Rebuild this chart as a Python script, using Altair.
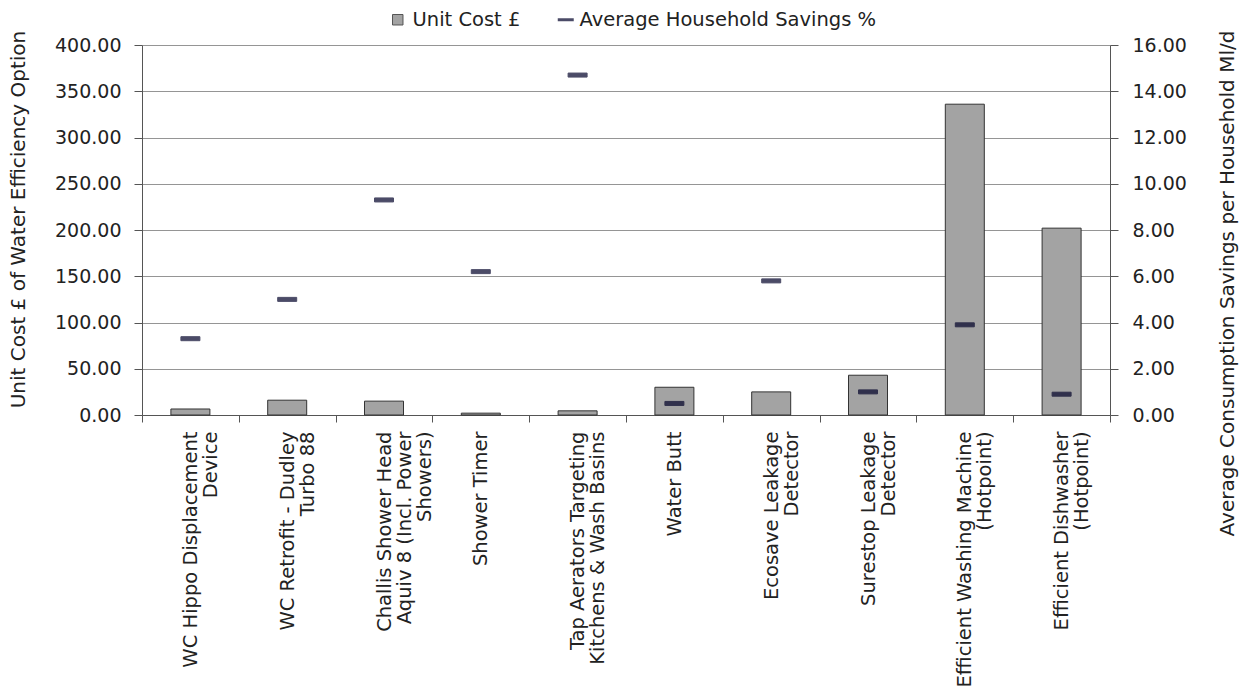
import altair as alt
import pandas as pd

categories = [
    "WC Hippo Displacement|Device",
    "WC Retrofit - Dudley|Turbo 88",
    "Challis Shower Head|Aquiv 8 (Incl. Power|Showers)",
    "Shower Timer",
    "Tap Aerators Targeting|Kitchens & Wash Basins",
    "Water Butt",
    "Ecosave Leakage|Detector",
    "Surestop Leakage|Detector",
    "Efficient Washing Machine|(Hotpoint)",
    "Efficient Dishwasher|(Hotpoint)",
]
unit_cost = [6.5, 16, 15, 2, 4.5, 30, 25, 43, 336, 202]
savings = [3.3, 5.0, 9.3, 6.2, 14.7, 0.5, 5.8, 1.0, 3.9, 0.9]
left_ticks = [0, 50, 100, 150, 200, 250, 300, 350, 400]
right_ticks = [0, 2, 4, 6, 8, 10, 12, 14, 16]

s1 = "Unit Cost £"
s2 = "Average Household Savings %"

df = pd.DataFrame({
    "cat": categories,
    "cost": unit_cost,
    "sav": savings,
    "s1": [s1] * len(categories),
    "s2": [s2] * len(categories),
})

FONT = "DejaVu Sans"
TXT = "#222222"
AX = "#555555"
NAVY = "#000028"

x = alt.X(
    "cat:N", sort=None, title=None,
    scale=alt.Scale(paddingInner=0, paddingOuter=0),
    axis=alt.Axis(
        labelAngle=270, labelAlign="right", labelBaseline="middle",
        labelExpr="split(datum.label, '|')", labelLineHeight=20,
        labelFontSize=19.5, labelFont=FONT, labelColor=TXT,
        tickBand="extent", tickSize=7, tickColor=AX, domainColor=AX,
        labelPadding=9, labelLimit=400,
    ),
)

bars = alt.Chart(df).mark_bar(size=39, stroke="#333333", strokeWidth=1).encode(
    x=x,
    y=alt.Y(
        "cost:Q", title="Unit Cost £ of Water Efficiency Option",
        scale=alt.Scale(domain=[0, 400], nice=False),
        axis=alt.Axis(
            values=left_ticks, format=".2f", grid=True, gridColor="#959595",
            tickSize=8, tickColor=AX, domainColor=AX, labelPadding=13,
            labelFontSize=19, labelFont=FONT, labelColor=TXT,
            titleFontSize=20, titleFont=FONT, titleColor=TXT, titleFontWeight="normal",
            titleX=-124, titleY=174, titleBaseline="middle", titleAngle=270,
        ),
    ),
    fill=alt.Fill(
        "s1:N", scale=alt.Scale(domain=[s1], range=["#a3a3a3"]),
        legend=alt.Legend(
            title=None, orient="none", legendX=246, legendY=-35, padding=0,
            symbolType="square", symbolSize=110, symbolStrokeColor="#555555",
            symbolStrokeWidth=1, labelFontSize=19.5, labelFont=FONT,
            labelColor=TXT, labelOffset=5, symbolOffset=0, labelLimit=500,
        ),
    ),
)

ticks = alt.Chart(df).mark_tick(size=19, thickness=4, color=NAVY).encode(
    x=x,
    y=alt.Y(
        "sav:Q", title="Average Consumption Savings per Household Ml/d",
        scale=alt.Scale(domain=[0, 16], nice=False),
        axis=alt.Axis(
            orient="right", values=right_ticks, format=".2f", grid=False,
            tickSize=8, tickColor=AX, domainColor=AX, labelPadding=14,
            labelFontSize=19, labelFont=FONT, labelColor=TXT,
            titleFontSize=20, titleFont=FONT, titleColor=TXT, titleFontWeight="normal",
            titleX=117, titleY=238, titleBaseline="middle", titleAngle=270,
        ),
    ),
    stroke=alt.Stroke(
        "s2:N", scale=alt.Scale(domain=[s2], range=[NAVY]),
        legend=alt.Legend(
            title=None, orient="none", legendX=414, legendY=-35, padding=0,
            symbolType="stroke", symbolSize=256, symbolStrokeWidth=3,
            symbolStrokeColor=NAVY,
            labelFontSize=19.5, labelFont=FONT, labelColor=TXT,
            labelOffset=4, symbolOffset=0, labelLimit=500,
        ),
    ),
)

chart = alt.layer(bars, ticks).resolve_scale(
    y="independent", fill="independent", stroke="independent"
).properties(
    width=968, height=370,
    autosize=alt.AutoSizeParams(type="none"),
    padding={"left": 142, "top": 45, "right": 132, "bottom": 280},
    background="white",
).configure_view(strokeWidth=0)

chart.save("out.html", embed_options={"renderer": "svg", "actions": False})
